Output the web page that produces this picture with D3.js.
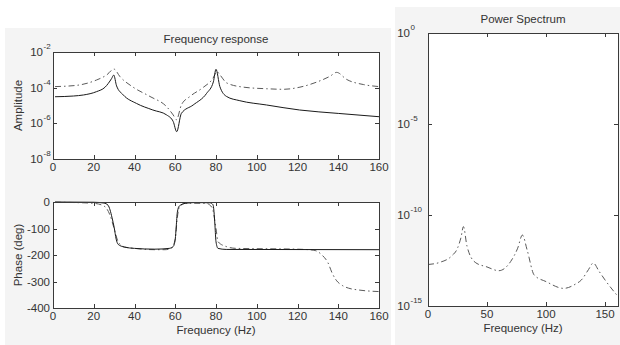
<!DOCTYPE html>
<html><head><meta charset="utf-8">
<script src="https://cdn.jsdelivr.net/npm/d3@7"></script>
<style>
html,body{margin:0;padding:0;background:#fff;}
svg{display:block;font-family:"Liberation Sans",Arial,sans-serif;}
</style></head>
<body><svg id="c" width="620" height="345"></svg>
<script>
// ---- data ----
const ampSolidFreq = [1,10,15,21.4,25.5,28.8,29.8,31.2,34.5,41,49,55.8,59,60.7,63,68.8,75.4,78.7,80,81.9,85.2,91.7,104.8,121,140,160];
const ampSolidVal  = [3.1e-5,3.4e-5,3.9e-5,6.0e-5,1.05e-4,3.3e-4,5.1e-4,1.26e-4,3.9e-5,1.3e-5,5.6e-6,2.95e-6,1.26e-6,3.4e-7,3.6e-6,1.07e-5,4.8e-5,2.1e-4,1.07e-3,1.15e-4,3.2e-5,1.86e-5,1.07e-5,5.6e-6,3.6e-6,2.35e-6];
const ampDashFreq = [1,11.6,21.4,26.3,29.9,32.9,39.4,47.6,55.8,59,60.6,63,67.2,73.8,78.5,80.4,82,85.2,93.4,104.9,113,121.2,129.4,136,139.2,144.1,152.3,160];
const ampDashVal  = [1.15e-4,1.35e-4,2.7e-4,5.1e-4,1.1e-3,4.1e-4,1.05e-4,3.2e-5,8.5e-6,2.95e-6,1.6e-6,1.07e-5,3.2e-5,1.05e-4,3.3e-4,7.9e-4,5.1e-4,1.86e-4,1.07e-4,8.7e-5,8.1e-5,1.07e-4,2.05e-4,4.4e-4,7.2e-4,2.9e-4,1.5e-4,1.15e-4];
const phSolidFreq = [1,20,25,27,28,29,30,31,32,35,40,50,57,59,60,60.5,61,62,65,70,77,78.5,79,79.5,80,81,85,160];
const phSolidVal  = [0,-1,-4,-12,-30,-60,-95,-140,-160,-170,-175,-178,-175,-168,-140,-90,-40,-15,-5,-2,-3,-10,-35,-90,-150,-175,-179,-180];
const phDashFreq = [1,10,20,25,28,30,32,35,40,50,55,58,60,61,62,65,75,78,80,81,85,90,120,128,132,135,137,139,142,145,150,160];
const phDashVal  = [-1,-2,-5,-15,-50,-100,-150,-170,-175,-180,-180,-175,-140,-60,-20,-5,-5,-20,-100,-150,-168,-175,-178,-182,-200,-230,-268,-295,-315,-325,-332,-338];
const psFreq = [0,10,20,25,28,30,33,40,50,60,70,76,80,84,90,100,115,125,130,136,140,145,150,160];
const psVal  = [1.9e-13,2.5e-13,5.6e-13,1.5e-12,6e-12,2.3e-11,2e-12,2.5e-13,1.4e-13,8.7e-14,2.75e-13,1.5e-12,7.9e-12,1.2e-12,5e-14,2.2e-14,9.3e-15,1.6e-14,2.7e-14,1e-13,2.3e-13,8e-14,2.7e-14,4e-15];
const ampTicksX = [0,20,40,60,80,100,120,140,160];
const ampTicksY = [-8,-6,-4,-2];
const phTicksY = [0,-100,-200,-300,-400];
const psTicksX = [0,50,100,150];
const psTicksY = [0,-5,-10,-15];

const svg = d3.select("#c");
const FS = 11.5, AX = "#3a3a3a", TXT = "#333";

// backgrounds
svg.append("rect").attr("x",5).attr("y",28).attr("width",386).attr("height",317).attr("fill","#f4f4f4");
svg.append("rect").attr("x",395).attr("y",7).attr("width",225).attr("height",338).attr("fill","#f4f4f4");

function panel(o){
  const g = svg.append("g");
  const x = o.x, y = o.y;
  const [x0,x1] = x.range(), [y0,y1] = y.range();
  g.append("rect").attr("x",x0).attr("y",y1).attr("width",x1-x0).attr("height",y0-y1)
    .attr("fill","#fff").attr("stroke","none");
  // lines
  o.lines.forEach(L=>{
    const pts = L.f.map((f,i)=>[f,L.v[i]]);
    g.append("path").datum(pts)
      .attr("d", d3.line().x(d=>x(d[0])).y(d=>y(d[1])).curve(d3.curveMonotoneX))
      .attr("fill","none").attr("stroke",L.c).attr("stroke-width",1)
      .attr("stroke-dasharray",L.dash||null);
  });
  // box
  g.append("rect").attr("x",x0+0.5).attr("y",y1+0.5).attr("width",x1-x0).attr("height",y0-y1)
    .attr("fill","none").attr("stroke",AX).attr("stroke-width",1);
  const tl = 4;
  // x ticks
  o.xt.forEach(t=>{
    const px = Math.round(x(t))+0.5;
    g.append("line").attr("x1",px).attr("x2",px).attr("y1",y0).attr("y2",y0-tl).attr("stroke",AX);
    g.append("line").attr("x1",px).attr("x2",px).attr("y1",y1).attr("y2",y1+tl).attr("stroke",AX);
    if(o.xlabels) g.append("text").attr("x",x(t)).attr("y",y0+12).attr("text-anchor","middle")
      .attr("font-size",FS).attr("fill",TXT).text(t);
  });
  o.yt.forEach(t=>{
    const v = o.log ? Math.pow(10,t) : t;
    const py = Math.round(y(v))+0.5;
    g.append("line").attr("x1",x0).attr("x2",x0+tl).attr("y1",py).attr("y2",py).attr("stroke",AX);
    g.append("line").attr("x1",x1).attr("x2",x1-tl).attr("y1",py).attr("y2",py).attr("stroke",AX);
    if(o.log){
      g.append("text").attr("x",o.labX).attr("y",y(v)+4).attr("text-anchor","end")
        .attr("font-size",FS).attr("fill",TXT).text("10");
      g.append("text").attr("x",o.labX+0.5).attr("y",y(v)-3).attr("text-anchor","start")
        .attr("font-size",8).attr("fill",TXT).text(t);
    } else {
      g.append("text").attr("x",x0-3).attr("y",y(v)+4).attr("text-anchor","end")
        .attr("font-size",FS).attr("fill",TXT).text(t);
    }
  });
  if(o.title) g.append("text").attr("x",(x0+x1)/2).attr("y",o.titleY).attr("text-anchor","middle")
    .attr("font-size",FS).attr("fill",TXT).text(o.title);
  if(o.xlab) g.append("text").attr("x",(x0+x1)/2).attr("y",y0+26).attr("text-anchor","middle")
    .attr("font-size",FS).attr("fill",TXT).text(o.xlab);
  if(o.ylab) g.append("text").attr("transform",`translate(22,${(y0+y1)/2}) rotate(-90)`)
    .attr("text-anchor","middle").attr("font-size",FS).attr("fill",TXT).text(o.ylab);
}

const SOLID = "#1a1a1a", DASH = "#5a5a5a", DD = "6,3,1.5,3";
// amplitude
panel({
  x: d3.scaleLinear().domain([0,160]).range([53,379]),
  y: d3.scaleLog().domain([1e-8,1e-2]).range([159,52]),
  log:true, labX:43,
  xt: ampTicksX, yt: ampTicksY, xlabels:true,
  title:"Frequency response", titleY:43, ylab:"Amplitude",
  lines:[{f:ampDashFreq,v:ampDashVal,c:DASH,dash:DD},{f:ampSolidFreq,v:ampSolidVal,c:SOLID}]
});
// phase
panel({
  x: d3.scaleLinear().domain([0,160]).range([53,379]),
  y: d3.scaleLinear().domain([-400,0]).range([308,202]),
  xt: ampTicksX, yt: phTicksY, xlabels:true,
  xlab:"Frequency (Hz)", ylab:"Phase (deg)",
  lines:[{f:phDashFreq,v:phDashVal,c:DASH,dash:DD},{f:phSolidFreq,v:phSolidVal,c:SOLID}]
});
// power spectrum
panel({
  x: d3.scaleLinear().domain([0,161]).range([428,618]),
  y: d3.scaleLog().domain([1e-15,1]).range([306,33]),
  log:true, labX:410,
  xt: psTicksX, yt: psTicksY, xlabels:true,
  title:"Power Spectrum", titleY:23, xlab:"Frequency (Hz)",
  lines:[{f:psFreq,v:psVal,c:DASH,dash:DD}]
});
</script></body></html>
